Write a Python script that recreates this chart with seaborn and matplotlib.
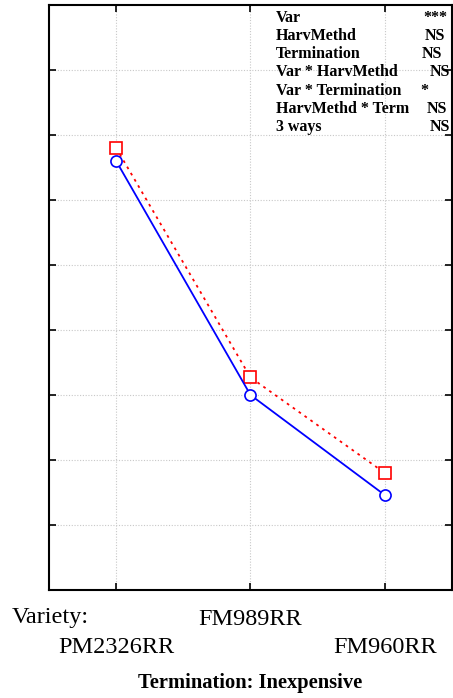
import matplotlib
matplotlib.use("Agg")
import matplotlib.pyplot as plt
import seaborn as sns
import pandas as pd

varieties = ["PM2326RR", "FM989RR", "FM960RR"]
series_blue = [6.60, 3.00, 1.46]   # solid line, circles
series_red = [6.80, 3.27, 1.80]    # dotted line, squares
effects = ["Var", "HarvMethd", "Termination", "Var * HarvMethd",
           "Var * Termination", "HarvMethd * Term", "3 ways"]
signif = ["***", "NS", "NS", "NS", "*", "NS", "NS"]
yticks = [1, 2, 3, 4, 5, 6, 7, 8]

sns.set_theme(style="white")
plt.rcParams["font.family"] = ["Liberation Serif", "DejaVu Serif"]
plt.rcParams["text.color"] = "black"
plt.rcParams["xtick.color"] = "black"
plt.rcParams["ytick.color"] = "black"
plt.rcParams["xtick.labelcolor"] = "black"

df = pd.DataFrame({
    "pos": list(range(len(varieties))) * 2,
    "value": series_blue + series_red,
    "series": ["blue"] * 3 + ["red"] * 3,
})

fig = plt.figure(figsize=(4.53, 6.98), dpi=100)
ax = fig.add_axes([49 / 453, 1 - 590 / 698, 403 / 453, 585 / 698])

d_red = df[df.series == "red"]
d_blue = df[df.series == "blue"]
sns.lineplot(data=d_red, x="pos", y="value", ax=ax, color="red",
             linestyle=(0, (1.5, 2.5)), linewidth=1.3, marker="s", markersize=8,
             markerfacecolor="white", markeredgecolor="red", markeredgewidth=1.2,
             legend=False)
sns.lineplot(data=d_blue, x="pos", y="value", ax=ax, color="blue",
             linestyle="-", linewidth=1.3, marker="o", markersize=8,
             markerfacecolor="white", markeredgecolor="blue", markeredgewidth=1.2,
             legend=False)

ax.set_xlim(-0.5, 2.5)
ax.set_ylim(0, 9)
ax.set_yticks(yticks)
ax.set_yticklabels([])

# staggered category labels: middle one on the first row, outer ones on the second
positions = list(range(len(varieties)))
ax.xaxis.remove_overlapping_locs = False
ax.set_xticks(positions)
ax.set_xticklabels(["", varieties[1], ""], fontsize=17.5, color="black")
outer = [positions[0], positions[2]]
ax.set_xticks(outer, minor=True)
ax.set_xticklabels([varieties[0], varieties[2]], minor=True, fontsize=17.5,
                   color="black")
ax.set_xlabel("")
ax.set_ylabel("")
ax.grid(True, which="major", color="#c8c8c8", linestyle=(0, (1, 1.5)),
        linewidth=0.8)
ax.tick_params(axis="both", which="major", direction="in", length=5, width=1.2,
               color="black", top=True, right=True, bottom=True, left=True,
               pad=14)
ax.tick_params(axis="x", which="minor", length=0, pad=34)
for s in ax.spines.values():
    s.set_color("black")
    s.set_linewidth(1.5)

fig.text(12 / 453, 1 - 623 / 698, "Variety:", fontsize=17.5, ha="left",
         va="baseline", color="black")
fig.text(250 / 453, 1 - 688 / 698, "Termination: Inexpensive", fontsize=14.8,
         fontweight="bold", ha="center", va="baseline", color="black")

ys = [17, 35, 53, 71, 90, 108, 126]
val_x = [447, 445, 442, 450, 428, 447, 450]
for name, sig, y, vx in zip(effects, signif, ys, val_x):
    fig.text(276 / 453, 1 - (y + 5) / 698, name, fontsize=11.5,
             fontweight="bold", ha="left", va="baseline", color="black")
    fig.text(vx / 453, 1 - (y + 5) / 698, sig, fontsize=11.5,
             fontweight="bold", ha="right", va="baseline", color="black")

fig.savefig("out.png", dpi=100)
